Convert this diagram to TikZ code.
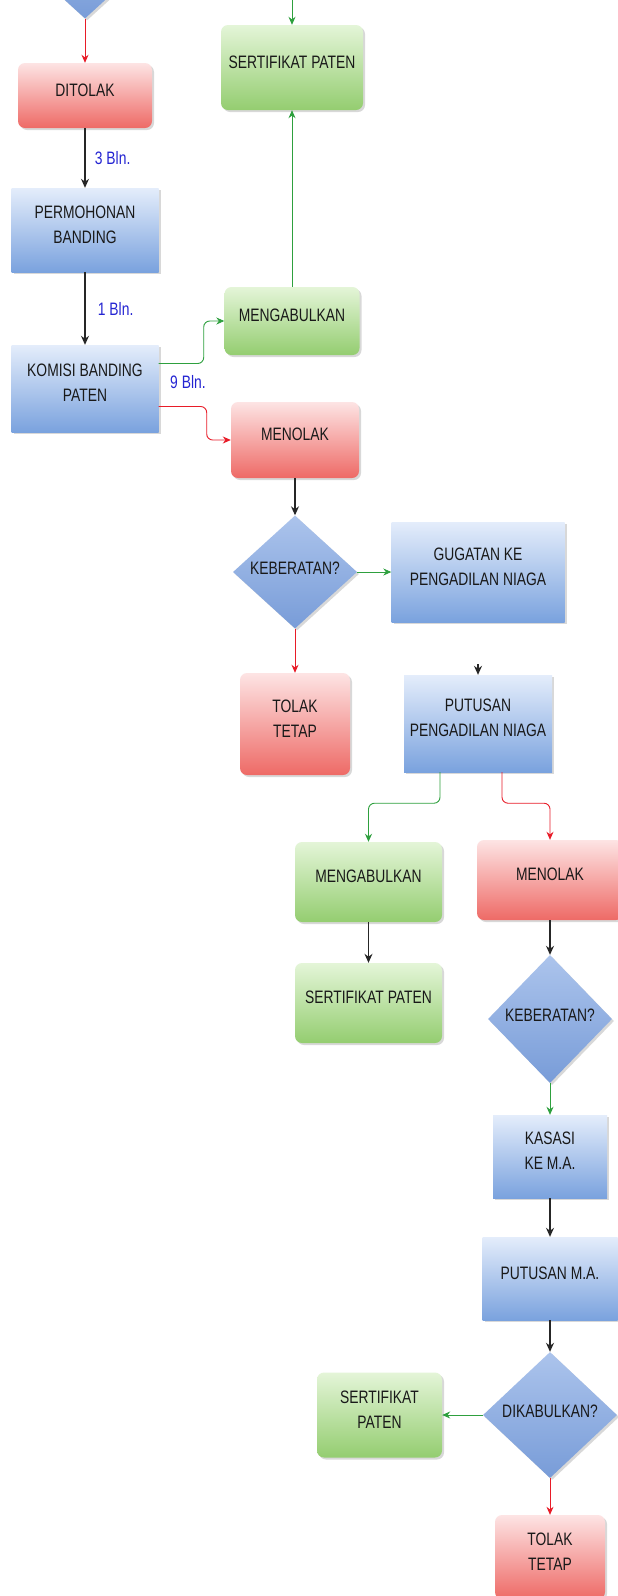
\documentclass[tikz,border=0pt]{standalone}
\usepackage{fontspec}
\setmainfont{Liberation Sans}[FakeStretch=0.77]
\usetikzlibrary{shapes.geometric,arrows.meta,shadows}

\definecolor{redtop}{RGB}{253,228,228}
\definecolor{redbot}{RGB}{238,106,102}
\definecolor{greentop}{RGB}{228,245,216}
\definecolor{greenbot}{RGB}{148,205,112}
\definecolor{bluetop}{RGB}{228,237,251}
\definecolor{bluebot}{RGB}{122,162,222}
\definecolor{diatop}{RGB}{172,196,236}
\definecolor{diabot}{RGB}{120,156,216}
\definecolor{arrred}{RGB}{232,28,40}
\definecolor{arrgreen}{RGB}{46,160,62}
\definecolor{lblblue}{RGB}{36,36,210}

\tikzset{
  flowbox/.style={inner sep=2pt, align=center, text=black!90, text depth=11pt,
    font=\fontsize{18}{25}\selectfont,
    drop shadow={opacity=0.3, shadow xshift=2pt, shadow yshift=-2pt}},
  redbox/.style={flowbox, rounded corners=7pt, top color=redtop, bottom color=redbot},
  greenbox/.style={flowbox, rounded corners=7pt, top color=greentop, bottom color=greenbot},
  bluebox/.style={flowbox, top color=bluetop, bottom color=bluebot},
  decision/.style={diamond, inner sep=0pt, minimum width=124pt, minimum height=113pt,
    top color=diatop, bottom color=diabot, text=black!90, text depth=8pt,
    font=\fontsize{18}{20}\selectfont,
    drop shadow={opacity=0.3, shadow xshift=2pt, shadow yshift=-2pt}},
  arr/.style={line width=1.2pt, black!85, -{Stealth[length=9pt,width=8pt]}},
  rarr/.style={line width=0.9pt, arrred, -{Stealth[length=8pt,width=7pt]}},
  garr/.style={line width=0.9pt, arrgreen, -{Stealth[length=8pt,width=7pt]}},
  lbl/.style={text=lblblue, font=\fontsize{18}{20}\selectfont}
}

\begin{document}
\begin{tikzpicture}[x=1pt, y=-1pt]

    % frame of the visible part
    \useasboundingbox (0,0) rectangle (618,1596);
    \fill[white] (0,0) rectangle (618,1596);
    \clip (0,0) rectangle (618,1596);

    % left column
    \node[decision] (periksa) at (85,-38) {};
    \node[redbox, minimum width=134pt, minimum height=65pt] (ditolak) at (85,95.5) {DITOLAK};
    \node[bluebox, minimum width=147pt, minimum height=84pt] (banding) at (85,230) {PERMOHONAN\\BANDING};
    \node[bluebox, minimum width=147pt, minimum height=87pt] (komisi) at (85,388.5) {KOMISI BANDING\\PATEN};

    % middle column
    \node[greenbox, minimum width=142pt, minimum height=85pt] (sertA) at (292,67.5) {SERTIFIKAT PATEN};
    \node[greenbox, minimum width=135pt, minimum height=68pt] (kabulA) at (292,321) {MENGABULKAN};
    \node[redbox, minimum width=128pt, minimum height=76pt] (tolakA) at (295,440) {MENOLAK};
    \node[decision] (keberA) at (295,572) {\makebox[0pt]{KEBERATAN?}};
    \node[redbox, minimum width=110pt, minimum height=102pt] (tetapA) at (295,724) {TOLAK\\TETAP};

    % right part
    \node[bluebox, minimum width=173pt, minimum height=100pt] (gugatan) at (478,572) {GUGATAN KE\\PENGADILAN NIAGA};
    \node[bluebox, minimum width=148pt, minimum height=97pt] (putusanN) at (478,723.5) {PUTUSAN\\PENGADILAN NIAGA};
    \node[greenbox, minimum width=147pt, minimum height=80pt] (kabulB) at (368.5,882) {MENGABULKAN};
    \node[greenbox, minimum width=147pt, minimum height=80pt] (sertB) at (368.5,1003) {SERTIFIKAT PATEN};
    \node[redbox, minimum width=146pt, minimum height=80pt] (tolakB) at (550,880) {MENOLAK};
    \node[decision, minimum height=128pt] (keberB) at (550,1019) {\makebox[0pt]{KEBERATAN?}};
    \node[bluebox, minimum width=114pt, minimum height=83pt] (kasasi) at (550,1156.5) {KASASI\\KE M.A.};
    \node[bluebox, minimum width=135pt, minimum height=83pt] (putusanMA) at (550,1278.5) {PUTUSAN M.A.};
    \node[decision, minimum width=134pt, minimum height=126pt] (dikabul) at (550,1415) {\makebox[0pt]{DIKABULKAN?}};
    \node[greenbox, minimum width=125pt, minimum height=85pt] (sertC) at (379.5,1415) {SERTIFIKAT\\PATEN};
    \node[redbox, minimum width=110pt, minimum height=84pt] (tetapB) at (550,1557) {TOLAK\\TETAP};

    % connectors, left column
    \draw[rarr] (periksa) -- (ditolak);
    \draw[arr] (ditolak) -- node[lbl, right, xshift=6pt] (lamaA) {3 Bln.} (banding);
    \draw[arr] (banding) -- node[lbl, right, xshift=9pt] (lamaB) {1 Bln.} (komisi);
    \draw[garr, rounded corners=6pt] ([yshift=25pt]komisi.east) -- ++(45,0) |- (kabulA.west);
    \draw[rarr, rounded corners=6pt] ([yshift=-18pt]komisi.east) -- ++(48,0) |- (tolakA.west);
    \node[lbl, anchor=west] (lamaC) at ([xshift=8pt,yshift=6pt]komisi.east) {9 Bln.};

    % connectors, middle column
    \coordinate (masuk) at (292,-6);
    \draw[garr] (masuk) -- (sertA);
    \draw[garr] (kabulA) -- (sertA);
    \draw[arr] (tolakA) -- (keberA);
    \draw[garr] (keberA) -- (gugatan);
    \draw[rarr] (keberA) -- (tetapA);

    % connectors, right part
    \draw[arr, shorten <=42pt] (gugatan) -- (putusanN);
    \draw[garr, rounded corners=6pt] ([xshift=-38pt]putusanN.south) -- ++(0,31) -| (kabulB.north);
    \draw[rarr, rounded corners=6pt] ([xshift=24pt]putusanN.south) -- ++(0,31) -| (tolakB.north);
    \draw[arr] (kabulB) -- (sertB);
    \draw[arr] (tolakB) -- (keberB);
    \draw[garr] (keberB) -- (kasasi);
    \draw[arr] (kasasi) -- (putusanMA);
    \draw[arr] (putusanMA) -- (dikabul);
    \draw[garr] (dikabul) -- (sertC);
    \draw[rarr] (dikabul) -- (tetapB);

\end{tikzpicture}
\end{document}
